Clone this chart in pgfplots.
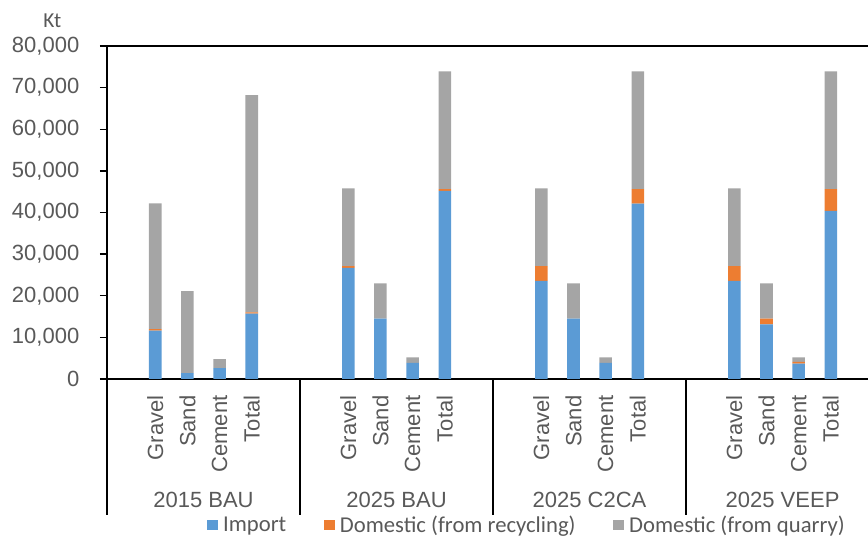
\documentclass[border=0pt]{standalone}
\usepackage{pgfplots}
\pgfplotsset{compat=1.18}
\usepackage{pgfplotstable}
\usepackage{fontspec}
\setmainfont{Liberation Sans}
\newfontfamily\legfont{Carlito}

\definecolor{impcol}{HTML}{5B9BD5}
\definecolor{reccol}{HTML}{ED7D31}
\definecolor{quacol}{HTML}{A5A5A5}
\definecolor{txtcol}{HTML}{595959}

% x = slot index, 6 slots per scenario (first and last empty)
\pgfplotstableread{
x y
1 11600
2 1400
3 2600
4 15700
7 26700
8 14500
9 3900
10 45200
13 23600
14 14500
15 3900
16 42100
19 23600
20 13100
21 3700
22 40400
}\importdata

\pgfplotstableread{
x y
1 400
2 0
3 0
4 300
7 400
8 0
9 0
10 400
13 3500
14 0
15 0
16 3500
19 3500
20 1400
21 400
22 5200
}\recycdata

\pgfplotstableread{
x y
1 30200
2 19700
3 2200
4 52200
7 18700
8 8500
9 1300
10 28300
13 18700
14 8500
15 1300
16 28300
19 18700
20 8500
21 1100
22 28300
}\quarrydata

\newcommand{\sand}{Sand\hspace{6.5pt}}

\begin{document}
\begin{tikzpicture}
\begin{axis}[
    name=ax,
    scale only axis,
    width=570.75pt, height=249.75pt,
    ybar stacked, bar width=0.39,
    xmin=-0.5, xmax=23.155,
    ymin=0, ymax=80000,
    ytick={0,10000,...,80000},
    xtick={1,2,3,4,7,8,9,10,13,14,15,16,19,20,21,22},
    xticklabels={Gravel,\sand,Cement,Total,Gravel,\sand,Cement,Total,Gravel,\sand,Cement,Total,Gravel,\sand,Cement,Total},
    scaled y ticks=false,
    /pgf/number format/1000 sep={,},
    /pgf/number format/assume math mode=true,
    clip=false,
    axis line style={draw=none},
    tick align=outside,
    major tick length=5.25pt,
    ytick style={draw=black, line width=1pt},
    xtick style={draw=none},
    ticklabel style={font=\fontsize{16.5}{19}\selectfont, text=txtcol},
    yticklabel style={xshift=-12pt},
    xticklabel style={rotate=90, anchor=east, inner sep=0pt},
    xticklabel shift=7pt,
    legend style={draw=none, fill=none, legend columns=3,
        font=\legfont\fontsize{17}{20}\selectfont, text=txtcol,
        at={(0.552,-0.4385)}, anchor=center,
        /tikz/every even column/.append style={column sep=26pt},
        nodes={inner sep=2pt}},
    legend image code/.code={\fill[#1] (0pt,-4.1pt) rectangle (8.25pt,4.1pt);},
]

\addplot[fill=impcol, draw=none] table[x=x,y=y] {\importdata};
\addplot[fill=reccol, draw=none] table[x=x,y=y] {\recycdata};
\addplot[fill=quacol, draw=none] table[x=x,y=y] {\quarrydata};
\legend{\hspace{2pt}Import,\hspace{2pt}Domestic (from recycling),\hspace{2pt}Domestic (from quarry)}

\draw[line width=1.5pt] (rel axis cs:0,1) -- (rel axis cs:1,1);
\draw[line width=1.9pt] (rel axis cs:0,0) -- (rel axis cs:1,0);
\draw[line width=1.5pt] ([yshift=-102pt]rel axis cs:0,0) -- (rel axis cs:0,1);
\pgfplotsinvokeforeach{5.5,11.5,17.5}{
  \draw[line width=1.2pt] (axis cs:#1,0) -- ([yshift=-102pt]axis cs:#1,0);
}

\node[font=\fontsize{16.5}{19}\selectfont, text=txtcol] at ([yshift=-90.75pt]axis cs:2.5,0) {2015 BAU};
\node[font=\fontsize{16.5}{19}\selectfont, text=txtcol] at ([yshift=-90.75pt]axis cs:8.5,0) {2025 BAU};
\node[font=\fontsize{16.5}{19}\selectfont, text=txtcol] at ([yshift=-90.75pt]axis cs:14.5,0) {2025 C2CA};
\node[font=\fontsize{16.5}{19}\selectfont, text=txtcol] at ([yshift=-90.75pt]axis cs:20.5,0) {2025 VEEP};
\node[font={\legfont\fontsize{16}{18}\selectfont}, text=txtcol] at ([xshift=-41pt,yshift=19pt]rel axis cs:0,1) {Kt};
\end{axis}
\pgfresetboundingbox
\path[use as bounding box] ([xshift=-80.25pt,yshift=-120pt]ax.south west) rectangle ([yshift=34.5pt]ax.north east);
\end{tikzpicture}
\end{document}
